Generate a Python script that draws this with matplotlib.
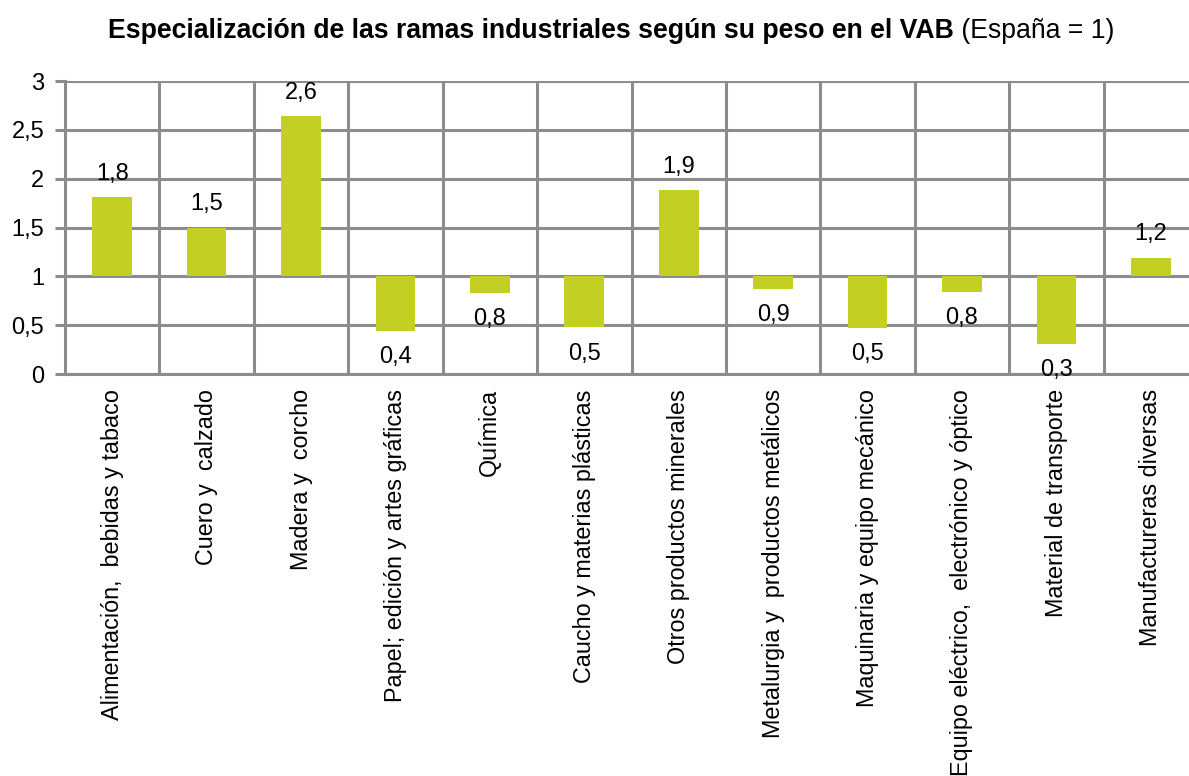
import matplotlib
matplotlib.use("Agg")
import matplotlib.pyplot as plt
import numpy as np

plt.rcParams['font.family'] = ['Liberation Sans', 'DejaVu Sans']

categories = [
    "Alimentación,  bebidas y tabaco",
    "Cuero y  calzado",
    "Madera y  corcho",
    "Papel; edición y artes gráficas",
    "Química",
    "Caucho y materias plásticas",
    "Otros productos minerales",
    "Metalurgia y  productos metálicos",
    "Maquinaria y equipo mecánico",
    "Equipo eléctrico,  electrónico y óptico",
    "Material de transporte",
    "Manufactureras diversas",
]
values = [1.81, 1.50, 2.64, 0.44, 0.83, 0.48, 1.88, 0.87, 0.47, 0.84, 0.31, 1.19]
baseline = 1.0
yticks = [0, 0.5, 1, 1.5, 2, 2.5, 3]
ytick_labels = ["0", "0,5", "1", "1,5", "2", "2,5", "3"]
title_bold = "Especialización de las ramas industriales según su peso en el VAB"
title_rest = " (España = 1)"

W, H = 1189, 776
fig = plt.figure(figsize=(W / 100, H / 100), dpi=100)
left, right, top, bottom = 65, 1198, 81, 374
ax = fig.add_axes([left / W, 1 - bottom / H, (right - left) / W, (bottom - top) / H])

grid_color = '#8c8c8c'
bar_color = '#c3cf22'
lw = 2.2

x = np.arange(len(categories))
heights = [v - baseline for v in values]
ax.bar(x, heights, bottom=baseline, width=0.42, color=bar_color, zorder=3)

ax.set_xlim(-0.5, len(categories) - 0.5)
ax.set_ylim(0, 3)
ax.set_yticks(yticks)
ax.set_yticklabels(ytick_labels, fontsize=17)
ax.set_xticks(x)
ax.set_xticklabels(categories, rotation=90, fontsize=16.8, va='top', ha='center')
ax.set_xticks(np.arange(-0.5, len(categories)), minor=True)
ax.tick_params(axis='x', which='major', length=0, pad=11)
ax.tick_params(axis='x', which='minor', length=0)
ax.tick_params(axis='y', length=7, width=lw, color=grid_color, pad=8)
ax.grid(axis='y', color=grid_color, linewidth=lw, zorder=1)
ax.grid(axis='x', which='minor', color=grid_color, linewidth=lw, zorder=1)
ax.grid(axis='x', which='major', visible=False)
for s in ['top', 'right']:
    ax.spines[s].set_visible(False)
for s in ['left', 'bottom']:
    ax.spines[s].set_color(grid_color)
    ax.spines[s].set_linewidth(lw)

for xi, v in zip(x, values):
    lab = f"{v:.1f}".replace('.', ',')
    off = 17 if v >= baseline else -19
    ax.annotate(lab, (xi, v), xytext=(0, off), textcoords='offset points',
                ha='center', va='center', fontsize=17, zorder=4, annotation_clip=False)

t1 = fig.text(108 / W, 1 - 31 / H, title_bold, ha='left', va='center',
              fontsize=19.2, fontweight='bold')
fig.canvas.draw()
bb = t1.get_window_extent(fig.canvas.get_renderer())
fig.text(bb.x1 / W, 1 - 31 / H, title_rest, ha='left', va='center', fontsize=19.2)

fig.savefig("out.png", dpi=100)
